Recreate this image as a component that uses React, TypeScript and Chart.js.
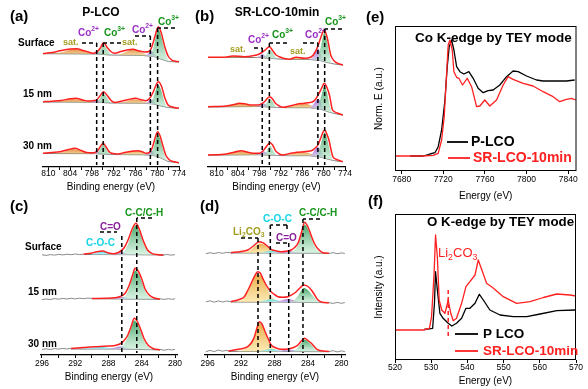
import React, { useEffect, useRef } from 'react';
import { Chart, registerables } from 'chart.js';

Chart.register(...registerables);

type P = [number, number];
const FONT = '"Liberation Sans", Arial, Helvetica, sans-serif';
const CW = 588;
const CH = 389;

// ================= DATA =================
// (a) Co 2p, P-LCO  — [binding energy eV, intensity a.u.]
const A_SURF_ENV: P[] = [[811.5,113.5],[809,114.5],[806.5,116.5],[804,118],[802.2,118.3],[800.5,116.5],[799,115],[797.7,113.8],[796.7,114.8],[795.7,119],[794.8,124.3],[793.8,119.5],[792.8,115.5],[791.7,113.8],[790,115.5],[788,117.3],[786.7,117.7],[785,116],[783.5,115],[782.3,115.5],[781.5,120],[780.6,131],[779.7,140.3],[778.8,133],[777.9,120],[777,111],[776,107],[775,105.8],[774,105.3]];
const A_SURF_BG: P[] = [[811.5,113.3],[797,113],[793,112],[784,111.5],[781,110.5],[779,108],[777,105.5],[774,105]];
const A_SURF_GREEN: P[] = [[797.3,113],[796.3,114.8],[795.6,118.5],[794.8,122],[794,118.5],[793.3,114.5],[792.3,112],[783,111.3],[781.8,113],[781,120],[780.4,130],[779.7,137.5],[779,132],[778.3,122],[777.6,112.5],[776.8,106.5],[776.2,105.2]];
const A_SURF_PURPLE: P[] = [[798.5,113],[797.5,114],[796.7,116],[795.8,114],[795,112.5],[783.5,111.4],[782.6,113],[781.8,116],[781,114],[780.2,110]];
const A_SURF_SAT: P[] = [[809,113.2],[806,115],[803,118],[800.5,116.5],[798.5,113.8],[797.5,113],[791,112],[789,114.5],[787,117.5],[785.5,116.5],[784,114],[782.5,111.3]];

const A_15_ENV: P[] = [[811.5,65.3],[809,65.8],[806.5,66.5],[804,68.2],[802.5,68.7],[800.5,67],[799,66],[797.7,66.3],[796.7,67.2],[795.7,71.5],[794.8,75.3],[793.8,71.5],[792.8,66.8],[791.7,64.5],[790,65.8],[788,67.5],[786,68.7],[784.5,67.3],[783.2,66.3],[782.2,68.3],[781.3,73.5],[780.5,80.5],[779.7,85.3],[778.8,80.5],[777.9,69],[777,62],[776,60.3],[775,59.3],[774,58.7]];
const A_15_BG: P[] = [[811.5,65],[797,64.8],[793,64],[784,63.8],[781,63],[779,61],[777,59.5],[774,58.5]];
const A_15_GREEN: P[] = [[797.3,64.8],[796.3,66],[795.6,70],[794.8,73.5],[794,70],[793.3,66],[792.3,64],[783,63.6],[781.8,65],[781,70],[780.4,77],[779.7,82],[779,77.5],[778.3,69],[777.6,62],[776.8,59.5],[776.2,59]];
const A_15_PURPLE: P[] = [[798.5,64.9],[797.5,65.8],[796.7,67.3],[795.8,65.8],[795,64.5],[783.5,63.8],[782.6,65],[781.8,67.5],[781,66],[780.2,63]];
const A_15_SAT: P[] = [[809,65],[806,66.2],[803.5,68],[801,67],[799,65.5],[797.5,64.8],[791,64],[789,65.2],[786.5,67.8],[784.5,66.5],[783,64.2],[782,63.6]];

const A_30_ENV: P[] = [[811.5,13.7],[809,14.5],[806.8,15.3],[804.5,17.5],[802.7,18.7],[801,16.5],[799.5,14.5],[797.5,14.3],[796.5,16],[795.6,21],[794.9,23.7],[794.1,20],[793.3,15.5],[792.6,13.7],[790.8,13],[789,14.5],[787,15.8],[785.3,16.3],[784,15],[783,13.7],[782,15],[781.3,20],[780.6,29],[779.9,35.3],[779.2,31],[778.5,22],[777.6,11.5],[776.6,7],[775.3,5.3],[774,4.3]];
const A_30_BG: P[] = [[811.5,13.5],[797,13.3],[793,12.5],[784,12.2],[781,11.5],[779,9],[777,5.5],[774,4.2]];
const A_30_GREEN: P[] = [[797.3,13.3],[796.3,15],[795.6,19],[794.9,22.5],[794.2,19],[793.5,15],[792.5,12.5],[783,12],[781.8,13.5],[781,19],[780.5,26],[779.9,33],[779.2,28],[778.5,19],[777.8,9.5],[777,5.5]];
const A_30_PURPLE: P[] = [[798.5,13.3],[797.5,14.3],[796.7,16],[795.8,14.3],[795,12.9],[783.5,12.2],[782.6,13.8],[781.8,16.5],[781,14.5],[780.2,11]];
const A_30_SAT: P[] = [[809,13.4],[806,15],[803.5,18],[801,16.5],[799,14],[797.5,13.3],[791,12.4],[789,14],[786.5,16.5],[784.5,15.5],[783,12.5],[782,12]];

// (b) Co 2p, SR-LCO-10min
const B_SURF_ENV: P[] = [[812.4,109.7],[808.2,109.7],[805.4,111],[802.2,110.3],[799.5,111.5],[798.2,112.8],[797.3,114.5],[796.2,117.5],[795.2,120.3],[794.2,116],[793.3,112],[792.4,110.3],[791,108.5],[789.6,107.7],[787.7,109.7],[785.4,108.7],[783.5,110],[782.5,114],[781.6,121],[780.7,130.3],[779.8,137],[778.9,128],[778,112],[777,106],[776,103.7],[774.6,102]];
const B_SURF_BG: P[] = [[812.4,109.5],[798,109.5],[792.5,108],[789.6,107.5],[784,107.5],[781,106.5],[779,104.5],[777,103],[774.6,102]];
const B_SURF_GREEN: P[] = [[797,109.4],[796.2,111.5],[795.6,115],[795.1,117.5],[794.4,115],[793.7,111],[793,108.3],[783,107.5],[781.8,109],[781,117],[780.4,126],[779.8,134],[779.1,127],[778.5,115],[777.7,104],[777,103]];
const B_SURF_PURPLE: P[] = [[799,109.5],[798,111],[797.2,113],[796.3,111],[795.5,109.2],[784,107.5],[783,110],[782.2,115],[781.6,118.5],[780.8,113],[780,106]];
const B_SURF_SAT: P[] = [[808,109.5],[805.5,110.8],[803,110.6],[800.5,109.6],[791,108.2],[789,108.5],[787.5,109.5],[785.5,108.7],[784,107.6]];

const B_15_ENV: P[] = [[812.4,60.3],[807.3,61],[805,62.5],[803.6,63.7],[801.8,63],[800.3,62],[798.3,62],[797.3,63.5],[796.5,65.5],[795.8,68.5],[795.1,70.3],[794.3,68],[793.5,63.7],[792.4,61],[791.4,59.7],[789.5,61],[787.5,62.8],[785.4,63.7],[783.8,64.5],[783,65.3],[782.2,68],[781.5,72.3],[780.6,78.5],[779.8,83.7],[779,79],[778.3,71],[777.6,58],[776.8,55],[776,53.7],[774.6,52]];
const B_15_BG: P[] = [[812.4,60],[798,60.5],[793,59.5],[790,59.3],[784,59.3],[781,58],[779,55.5],[777,53.5],[774.6,52]];
const B_15_GREEN: P[] = [[797.2,60.4],[796.3,62],[795.6,66],[795.1,68],[794.4,66],[793.7,61.8],[793,59.5],[783,59],[781.8,60.5],[781,67],[780.4,74],[779.8,81],[779.1,75],[778.5,65],[777.7,55],[777,53.5]];
const B_15_PURPLE: P[] = [[799,60.5],[798,61.6],[797,64],[796.2,62.5],[795.4,60.3],[784,59.3],[783,62],[782.2,66],[781.5,68],[780.7,64],[780,57]];
const B_15_SAT: P[] = [[810,60.1],[807,61.3],[804,63.5],[801.5,62.5],[799,60.7],[792,59.5],[789.5,60.3],[787.5,62.3],[785.5,63.5],[783.5,61.5],[782.2,58.8]];

const B_30_ENV: P[] = [[812.4,12],[807.3,13],[805,14.8],[803.1,16.3],[801.5,15],[799.8,13.7],[798,13.7],[797.2,15.3],[796.6,17.7],[795.8,21.5],[795,24.3],[794.2,21.5],[793.5,16.3],[792.4,13],[791.4,12],[789.5,13.5],[787.5,14.8],[785.4,15.3],[783.8,16],[783,17],[782.2,19.5],[781.6,22],[780.8,29],[780.2,34.5],[779.7,37],[779,32],[778.5,27],[777.9,17],[777.4,10.3],[776.6,8],[776,7],[774.6,5.3]];
const B_30_BG: P[] = [[812.4,11.8],[798,12.3],[793,11.5],[790,11.3],[784,11.3],[781,10],[779,8],[777,6.3],[774.6,5.2]];
const B_30_GREEN: P[] = [[797,12.3],[796.2,14],[795.6,18],[795,21.5],[794.4,18],[793.7,13.8],[793,11.5],[783,11],[781.8,12.8],[781,20],[780.4,28],[779.7,34.5],[779,28],[778.4,18.5],[777.6,8.5],[777,6.3]];
const B_30_PURPLE: P[] = [[799,12.3],[798,13.6],[797,16.3],[796.2,14.5],[795.4,12.2],[784,11.3],[783,14],[782.2,18.5],[781.6,19.8],[780.8,16],[780,9.5]];
const B_30_SAT: P[] = [[810,11.9],[807,13.3],[804,16],[801.5,14.8],[799,12.6],[792,11.4],[789.5,12.5],[787.5,14.5],[785.5,15],[783.5,13.2],[782.2,10.8]];

// (c) C 1s, P-LCO
const C_SURF_ENV: P[] = [[291,100.8],[290,102],[289.4,103.3],[288.7,104],[288,102],[287.4,101.3],[286.7,103],[286.1,107.5],[285.6,116],[285.1,127],[284.7,131.7],[284.3,126],[283.8,114],[283.3,105],[282.8,101.7],[282,100.3],[281.4,100]];
const C_SURF_BG: P[] = [[291,100.5],[285,100.3],[281.4,100]];
const C_SURF_GREEN: P[] = [[287,100.4],[286.2,103],[285.6,112],[285.1,125],[284.7,130],[284.3,124],[283.8,112],[283.3,104],[282.6,100.2]];
const C_SURF_PURPLE: P[] = [[288,100.4],[287.2,101.5],[286.5,102.8],[285.8,101.5],[285,100.3]];
const C_SURF_CYAN: P[] = [[290.2,100.5],[289.4,102.5],[288.7,103.5],[288,102.2],[287.3,100.4]];
const C_SURF_RAW_L: P[] = [[296,100.2],[295.5,99.6],[295,100.4],[294.5,99.9],[294,100.6],[293.5,100.1],[293,100.8],[292.5,100.3],[292,101],[291.5,100.4],[291,100.9]];
const C_SURF_RAW_R: P[] = [[282,100.4],[281.5,99.8],[281,100.5],[280.5,99.9],[280,100.3]];

const C_15_ENV: P[] = [[290,56.5],[288.2,56.7],[287.3,57.2],[286.6,58.5],[286,61.7],[285.5,70],[285.1,80],[284.8,86.7],[284.4,83.5],[284,76],[283.6,66],[283.1,60],[282.6,57.3],[281.8,56]];
const C_15_BG: P[] = [[290,56.3],[285,55.9],[281.8,55.7]];
const C_15_GREEN: P[] = [[286.8,56],[286,59],[285.5,67],[285.1,78],[284.8,84.5],[284.4,81],[284,73.5],[283.6,64],[283.1,58.5],[282.5,55.8]];
const C_15_PURPLE: P[] = [[288,56.2],[287.3,57],[286.6,58.2],[285.9,57.2],[285.2,56]];
const C_15_CYAN: P[] = [[289.6,56.3],[288.9,56.9],[288.2,56.5],[287.6,56.1]];
const C_15_RAW_L: P[] = [[296,55.4],[295.5,56],[295,55.5],[294.5,56.4],[294,55.8],[293.5,56.6],[293,56],[292.5,56.7],[292,56.1],[291.5,56.8],[291,56.3],[290.5,56.9],[290,56.5]];
const C_15_RAW_R: P[] = [[281.8,56.2],[281.3,55.6],[280.8,56.3],[280.4,55.7],[280,56.2]];

const C_30_ENV: P[] = [[292.5,6.5],[291,7.5],[289.8,8.3],[288.5,8.8],[287.4,9.3],[286.7,10.8],[286.2,13.7],[285.7,19.5],[285.3,28],[284.9,36.7],[284.5,33],[284.1,25],[283.7,16],[283.2,9.5],[282.6,6.3],[281.8,5.2]];
const C_30_BG: P[] = [[292.5,6],[287,6],[281.8,5.1]];
const C_30_GREEN: P[] = [[286.8,6.1],[286.2,10],[285.7,17.5],[285.3,26],[284.9,34.5],[284.5,31],[284.1,23],[283.7,14],[283.2,8],[282.6,5.3]];
const C_30_PURPLE: P[] = [[288,6],[287.2,7.5],[286.5,8.5],[285.8,7.2],[285,5.8]];
const C_30_CYAN: P[] = [[291.5,6],[290.2,7.3],[289,8],[288,7.2],[287.2,6]];
const C_30_RAW_L: P[] = [[296,5.6],[295.5,6.2],[295,5.5],[294.5,6.4],[294,5.9],[293.5,6.6],[293,6],[292.5,6.7]];
const C_30_RAW_R: P[] = [[281.8,5.6],[281.3,4.8],[280.8,5.6],[280.4,5],[280,5.7]];

// (d) C 1s, SR-LCO-10min
const D_SURF_ENV: P[] = [[293.2,102.3],[292,103.5],[291.2,105],[290.6,108.5],[290.1,112],[289.8,113.3],[289.4,112.3],[289,110],[288.4,105.7],[287.8,104],[287.2,103.3],[286.6,103.8],[286,105],[285.6,107.5],[285.2,111.7],[284.8,122],[284.4,132.7],[284,128],[283.6,119],[283.2,111],[282.8,106],[282.2,102.3],[281.5,101.8]];
const D_SURF_BG: P[] = [[293.2,102],[288,102],[281.5,101.7]];
const D_SURF_LI: P[] = [[292,102],[291,104.5],[290.5,107.5],[290,110.5],[289.7,111.5],[289.3,110.5],[288.8,107.5],[288.3,104],[287.6,102]];
const D_SURF_CYAN: P[] = [[289.8,102],[289,103.5],[288.4,104.2],[287.8,103.5],[287,102]];
const D_SURF_PURPLE: P[] = [[288,102],[287.2,103],[286.4,104.3],[285.6,103],[284.8,101.9]];
const D_SURF_GREEN: P[] = [[286.5,101.9],[285.7,104.5],[285.2,110],[284.8,120],[284.4,130.5],[284,126],[283.6,117],[283.2,108.5],[282.8,104],[282.2,101.8]];
const D_SURF_RAW_L: P[] = [[296.2,101.3],[295.7,102.3],[295.2,101.4],[294.7,102.5],[294.2,101.7],[293.7,102.6],[293.2,102.1]];
const D_SURF_RAW_R: P[] = [[281.5,101.6],[281,102.3],[280.5,101.3],[280,102.1],[279.6,101.6]];

const D_15_ENV: P[] = [[293.2,53.3],[292.2,55.5],[291.6,58.3],[291.1,66],[290.6,75],[290.2,81.5],[290,83.3],[289.7,82],[289.4,76.7],[289,70],[288.6,65],[288.1,61],[287.6,58.3],[287,57.8],[286.4,58.3],[285.9,60.3],[285.4,63.3],[284.9,67.5],[284.5,70],[284,68.5],[283.6,65],[283.2,60],[282.8,55],[282.3,52.8],[281.5,52.3]];
const D_15_BG: P[] = [[293.2,53],[287,52.8],[281.5,52.3]];
const D_15_LI: P[] = [[292.5,53.2],[291.6,57],[291.1,64.5],[290.6,73.5],[290.1,80.5],[289.7,80],[289.3,74],[288.8,65],[288.3,58],[287.6,54],[287,52.8]];
const D_15_CYAN: P[] = [[290,53],[289.2,54.5],[288.5,55.8],[287.8,55],[287,52.8]];
const D_15_PURPLE: P[] = [[288,52.9],[287.2,54.5],[286.4,56],[285.6,54.6],[284.8,52.7]];
const D_15_GREEN: P[] = [[286.3,52.7],[285.7,54.5],[285.2,59],[284.8,64.5],[284.5,67],[284.1,65.5],[283.6,61],[283.2,57],[282.7,53.5],[282.2,52.4]];
const D_15_RAW_L: P[] = [[296.2,53.1],[295.7,54.2],[295.2,52.8],[294.7,54.1],[294.2,53],[293.7,54],[293.2,53.2]];
const D_15_RAW_R: P[] = [[281.5,52.3],[281,51.6],[280.5,52.6],[280,51.7],[279.6,52.4]];

const D_30_ENV: P[] = [[293.5,4],[292.8,5],[291.8,6.5],[291.2,8.3],[290.7,13],[290.4,18.3],[290.1,27],[289.8,33.3],[289.5,31],[289.2,25],[288.8,17],[288.4,10],[287.8,7],[287.2,5.7],[286.6,5.8],[286,6.7],[285.5,8.3],[285.2,10],[284.8,14],[284.4,16.7],[284,14.5],[283.6,11.7],[283.2,8],[282.8,5],[282.2,4],[281.5,3.5]];
const D_30_BG: P[] = [[293.5,3.6],[287,3.5],[281.5,3.3]];
const D_30_LI: P[] = [[292.5,3.6],[291.6,5.5],[291,9],[290.5,16],[290.1,26],[289.8,32],[289.5,29.5],[289.1,22],[288.7,13],[288.2,7],[287.6,4.2],[287,3.5]];
const D_30_CYAN: P[] = [[290,3.6],[289.2,4.8],[288.5,6],[287.8,5.2],[287,3.5]];
const D_30_PURPLE: P[] = [[288,3.5],[287.2,4.6],[286.4,5.6],[285.6,4.6],[284.8,3.4]];
const D_30_GREEN: P[] = [[286,3.4],[285.5,5],[285.1,8.5],[284.7,13],[284.4,15.5],[284,13.5],[283.6,10],[283.2,6.5],[282.7,4],[282.2,3.4]];
const D_30_RAW_L: P[] = [[296.2,3.3],[295.7,4.6],[295.2,3.4],[294.7,5],[294.2,3.8],[293.7,4.7],[293.5,4]];
const D_30_RAW_R: P[] = [[281.5,3.5],[281,4.3],[280.5,3.1],[280,4.1],[279.6,3.4]];

// (e) Co K-edge, TEY  — [energy eV, normalized intensity]
const E_PLCO: P[] = [[7688,14],[7700.7,14],[7707.2,16],[7712,17.3],[7715.1,23.3],[7718.4,40],[7721.6,70],[7723.8,103.3],[7725.7,123.3],[7728,130],[7730.2,120],[7732.8,103.3],[7736,98.3],[7739.8,96],[7744.6,98.3],[7748.7,91.7],[7753.5,81.7],[7758.3,77.3],[7763.1,79.3],[7767.9,80],[7774.3,85],[7780.8,93.3],[7787.1,99],[7791.9,98.3],[7800,94],[7809.6,90],[7815.9,89],[7838.3,89],[7846.3,90]];
const E_SR: P[] = [[7673.6,14],[7700.7,14],[7710.3,14.7],[7715.1,16.7],[7718.4,30],[7720.9,53.3],[7723.2,96.7],[7724.7,125],[7726.4,130],[7728.6,120],[7730.2,98.3],[7732.8,92.7],[7735,91.7],[7738.5,85],[7743,91.7],[7747.2,83.3],[7752,63.3],[7755.1,64],[7759.9,70],[7764.7,64],[7771.2,70],[7777.5,85],[7782.3,93.3],[7787.1,90.7],[7796.7,86.7],[7806.3,84],[7815.9,78.3],[7825.5,73.3],[7831.9,68.3],[7838.3,70.7],[7843.1,71.7],[7847.3,70]];

// (f) O K-edge, TEY
const F_PLCO: P[] = [[528,30.5],[530.4,31.7],[530.9,56.7],[531.2,88.3],[531.7,70],[532.4,46.7],[533.3,41.7],[534.7,36.7],[535.7,34],[537,36.7],[538.4,41.7],[539.6,51.7],[540.7,51.7],[542.1,56.7],[543.3,65.7],[544.4,60],[546.2,50],[549,45],[552.7,43.3],[556.4,43.3],[560.1,46],[564.7,49.3],[569.7,50],[570,50]];
const F_SR: P[] = [[520,30],[527.8,30],[529.5,31.7],[530.1,43.3],[530.8,86.7],[531.2,125],[531.7,103.3],[532.2,60],[532.9,50],[533.8,46.7],[534.7,60],[535.4,46.7],[536.1,39.3],[537,41.7],[538.4,56.7],[539.6,73.3],[540.7,78.3],[542.1,85],[543,100],[544,90],[545.3,76.7],[547.2,71.7],[549.9,63.3],[553.6,56.7],[557.3,58.3],[561,62.5],[564.7,66],[568.3,65],[570,64]];

// ticks
const CO2P_TICKS = [810, 807, 804, 801, 798, 795, 792, 789, 786, 783, 780, 777, 774];
const CO2P_LABELS = [810, 804, 798, 792, 786, 780, 774];
const C1S_TICKS = [296, 294, 292, 290, 288, 286, 284, 282, 280];
const C1S_LABELS = [296, 292, 288, 284, 280];
const COK_TICKS = [7680, 7720, 7760, 7800, 7840];
const OK_TICKS = [520, 530, 540, 550, 560, 570];

// ================= STYLE =================
const RED = '#ff2020';
const GREY = '#7d7d7d';
const GREEN_FILL: [string, string] = ['rgba(38,150,78,0.85)', 'rgba(195,236,210,0.6)'];
const PURPLE_FILL: [string, string] = ['rgba(150,100,205,0.9)', 'rgba(212,190,238,0.75)'];
const SAT_FILL: [string, string] = ['rgba(228,118,40,0.85)', 'rgba(232,200,110,0.6)'];
const CYAN_FILL: [string, string] = ['rgba(55,212,228,0.85)', 'rgba(175,242,246,0.7)'];
const LI_FILL: [string, string] = ['rgba(230,160,48,0.9)', 'rgba(250,226,150,0.7)'];
const C_PURPLE = '#9a2fc4';
const C_GREEN = '#17951c';
const C_OLIVE = '#a39d1e';
const C_CYAN = '#14d4e6';
const C_CO = '#8b1d9c';

type Part = { t: string; s?: 'sup' | 'sub' };
type Item =
  | { k: 'text'; x: number; y: number; p: Part[] | string; size: number; bold?: boolean; color?: string; align?: 'left' | 'center' }
  | { k: 'br'; e: number; top: number; bottom: number; hx?: number; color?: string }
  | { k: 'hd'; x1: number; x2: number; y: number }
  | { k: 'vd'; x: number; y1: number; y2: number }
  | { k: 'leg'; x1: number; x2: number; y: number; color: string }
  | { k: 'box' };

const co = (n: string): Part[] => [{ t: 'Co' }, { t: n, s: 'sup' }];
const li: Part[] = [{ t: 'Li' }, { t: '2', s: 'sub' }, { t: 'CO' }, { t: '3', s: 'sub' }];

function drawText(ctx: CanvasRenderingContext2D, it: any) {
  const parts: Part[] = typeof it.p === 'string' ? [{ t: it.p }] : it.p;
  const w = it.bold ? 'bold ' : '';
  const big = `${w}${it.size}px ${FONT}`;
  const small = `${w}${(it.size * 0.68).toFixed(1)}px ${FONT}`;
  let total = 0;
  for (const p of parts) { ctx.font = p.s ? small : big; total += ctx.measureText(p.t).width; }
  let x = it.align === 'center' ? it.x - total / 2 : it.x;
  ctx.fillStyle = it.color || '#000';
  ctx.textBaseline = 'middle';
  ctx.textAlign = 'left';
  for (const p of parts) {
    ctx.font = p.s ? small : big;
    const dy = p.s === 'sup' ? -it.size * 0.38 : p.s === 'sub' ? it.size * 0.32 : 0;
    ctx.fillText(p.t, x, it.y + dy);
    x += ctx.measureText(p.t).width;
  }
}

function drawItems(chart: any, items: Item[]) {
  const ctx: CanvasRenderingContext2D = chart.ctx;
  const xs = chart.scales.x;
  ctx.save();
  for (const it of items) {
    ctx.setLineDash([]);
    if (it.k === 'box') {
      const a = chart.chartArea;
      ctx.strokeStyle = '#000';
      ctx.lineWidth = 1;
      ctx.strokeRect(a.left + 0.5, a.top + 0.5, a.right - a.left - 1, a.bottom - a.top - 1);
    } else if (it.k === 'text') {
      drawText(ctx, it);
    } else if (it.k === 'br') {
      const x = xs.getPixelForValue(it.e);
      ctx.setLineDash([4, 3]);
      ctx.lineWidth = 1.5;
      ctx.strokeStyle = it.color || '#000';
      ctx.beginPath();
      ctx.moveTo(x, it.top);
      ctx.lineTo(x, it.bottom);
      if (it.hx !== undefined) { ctx.moveTo(it.hx, it.top); ctx.lineTo(x, it.top); }
      ctx.stroke();
    } else if (it.k === 'hd') {
      ctx.setLineDash([4, 3]);
      ctx.lineWidth = 1.5;
      ctx.strokeStyle = '#000';
      ctx.beginPath(); ctx.moveTo(it.x1, it.y); ctx.lineTo(it.x2, it.y); ctx.stroke();
    } else if (it.k === 'vd') {
      ctx.setLineDash([4, 3]);
      ctx.lineWidth = 1.5;
      ctx.strokeStyle = '#000';
      ctx.beginPath(); ctx.moveTo(it.x, it.y1); ctx.lineTo(it.x, it.y2); ctx.stroke();
    } else if (it.k === 'leg') {
      ctx.lineWidth = 1.8;
      ctx.strokeStyle = it.color;
      ctx.beginPath(); ctx.moveTo(it.x1, it.y); ctx.lineTo(it.x2, it.y); ctx.stroke();
    }
  }
  ctx.restore();
}

const pts = (a: P[]) => a.map(([x, y]) => ({ x, y }));

// vertical gradient spanning a component's own intensity range (dark at top, pale at base)
function gradFill(d: P[], cols: [string, string]) {
  const hi = Math.max(...d.map((p) => p[1]));
  const lo = Math.min(...d.map((p) => p[1]));
  return (c: any) => {
    const ch = c.chart;
    const ys = ch.scales && ch.scales.y;
    if (!ys || !ch.chartArea) return cols[0];
    const y0 = ys.getPixelForValue(hi);
    const y1 = ys.getPixelForValue(lo);
    if (!isFinite(y0) || !isFinite(y1) || y0 === y1) return cols[0];
    const g = ch.ctx.createLinearGradient(0, y0, 0, y1);
    g.addColorStop(0, cols[0]);
    g.addColorStop(1, cols[1]);
    return g;
  };
}

function spectrum(ds: any[], s: { env: P[]; bg: P[]; raw?: P[][]; comps: [P[], [string, string]][] }) {
  const start = ds.length;
  const nRaw = s.raw ? s.raw.length : 0;
  const bgIndex = start + 1 + nRaw + s.comps.length;
  ds.push({ data: pts(s.env), borderColor: RED, borderWidth: 1.5, cubicInterpolationMode: 'monotone', fill: false });
  (s.raw || []).forEach((r) => ds.push({ data: pts(r), borderColor: GREY, borderWidth: 0.9, fill: false }));
  s.comps.forEach(([d, c]) => ds.push({ data: pts(d), borderColor: 'rgba(0,0,0,0)', borderWidth: 0, backgroundColor: gradFill(d, c), cubicInterpolationMode: 'monotone', fill: bgIndex }));
  ds.push({ data: pts(s.bg), borderColor: GREY, borderWidth: 1, fill: false });
}

interface PanelCfg {
  area: [number, number, number, number];
  axisH: number; tickLen: number; tickPad: number;
  xmin: number; xmax: number; reverse: boolean;
  ymin: number; ymax: number;
  ticks: number[]; labels: number[];
  xTitle: string; yTitle?: string;
  datasets: any[]; items: Item[];
}

function build(canvas: HTMLCanvasElement, c: PanelCfg) {
  const [L, T, R, B] = c.area;
  const yW = c.yTitle ? 22 : 0;
  return new Chart(canvas, {
    type: 'line',
    data: { datasets: c.datasets },
    options: {
      responsive: false,
      animation: false,
      devicePixelRatio: 1,
      events: [],
      layout: { padding: { left: L - yW, top: T, right: CW - R, bottom: CH - B - c.axisH } },
      plugins: { legend: { display: false }, tooltip: { enabled: false } },
      elements: { point: { radius: 0 }, line: { borderJoinStyle: 'round' } },
      scales: {
        x: {
          type: 'linear', min: c.xmin, max: c.xmax, reverse: c.reverse,
          afterFit: (s: any) => { s.height = c.axisH; },
          afterBuildTicks: (s: any) => { s.ticks = c.ticks.map((v) => ({ value: v })); },
          ticks: {
            autoSkip: false, maxRotation: 0, minRotation: 0, padding: c.tickPad,
            font: { size: 8.5, family: FONT }, color: '#000',
            callback: (v: any) => (c.labels.includes(Number(v)) ? String(v) : ''),
          },
          grid: { display: true, drawOnChartArea: false, drawTicks: true, tickLength: c.tickLen, color: '#000', lineWidth: 1 },
          border: { display: !c.yTitle, color: '#000', width: 1.2 },
          title: { display: true, text: c.xTitle, font: { size: 10, family: FONT }, color: '#000', padding: 0 },
        },
        y: {
          type: 'linear', min: c.ymin, max: c.ymax, display: !!c.yTitle,
          afterFit: (s: any) => { s.width = yW; },
          ticks: { display: false },
          grid: { display: false, drawTicks: false },
          border: { display: false },
          title: { display: !!c.yTitle, text: c.yTitle || '', font: { size: 10, family: FONT }, color: '#000', padding: 0 },
        },
      },
    } as any,
    plugins: [{ id: 'anno', afterDraw: (ch: any) => drawItems(ch, c.items) }],
  });
}

// ================= PANELS =================
function panelA(): PanelCfg {
  const ds: any[] = [];
  spectrum(ds, { env: A_SURF_ENV, bg: A_SURF_BG, comps: [[A_SURF_GREEN, GREEN_FILL], [A_SURF_PURPLE, PURPLE_FILL], [A_SURF_SAT, SAT_FILL]] });
  spectrum(ds, { env: A_15_ENV, bg: A_15_BG, comps: [[A_15_GREEN, GREEN_FILL], [A_15_PURPLE, PURPLE_FILL], [A_15_SAT, SAT_FILL]] });
  spectrum(ds, { env: A_30_ENV, bg: A_30_BG, comps: [[A_30_GREEN, GREEN_FILL], [A_30_PURPLE, PURPLE_FILL], [A_30_SAT, SAT_FILL]] });
  return {
    area: [43, 20, 179, 167], axisH: 26, tickLen: 3, tickPad: -1,
    xmin: 774, xmax: 811.5, reverse: true, ymin: 0, ymax: 147,
    ticks: CO2P_TICKS, labels: CO2P_LABELS, xTitle: 'Binding energy (eV)', datasets: ds,
    items: [
      { k: 'text', x: 10, y: 17, p: '(a)', size: 15, bold: true },
      { k: 'text', x: 101, y: 13, p: 'P-LCO', size: 12, bold: true, align: 'center' },
      { k: 'text', x: 18, y: 43, p: 'Surface', size: 10, bold: true },
      { k: 'text', x: 23, y: 94, p: '15 nm', size: 10, bold: true },
      { k: 'text', x: 23, y: 146, p: '30 nm', size: 10, bold: true },
      { k: 'text', x: 63, y: 43, p: 'sat.', size: 9, bold: true, color: C_OLIVE },
      { k: 'text', x: 78, y: 33, p: co('2+'), size: 10, bold: true, color: C_PURPLE },
      { k: 'text', x: 104, y: 33, p: co('3+'), size: 10, bold: true, color: C_GREEN },
      { k: 'text', x: 122, y: 43, p: 'sat.', size: 9, bold: true, color: C_OLIVE },
      { k: 'text', x: 132, y: 30, p: co('2+'), size: 10, bold: true, color: C_PURPLE },
      { k: 'text', x: 158, y: 22, p: co('3+'), size: 10, bold: true, color: C_GREEN },
      { k: 'br', e: 796.7, top: 43, bottom: 165, hx: 82 },
      { k: 'br', e: 794.9, top: 43, bottom: 165, hx: 121 },
      { k: 'br', e: 781.9, top: 36, bottom: 165, hx: 135 },
      { k: 'br', e: 779.9, top: 28, bottom: 165, hx: 175 },
    ],
  };
}

function panelB(): PanelCfg {
  const ds: any[] = [];
  spectrum(ds, { env: B_SURF_ENV, bg: B_SURF_BG, comps: [[B_SURF_GREEN, GREEN_FILL], [B_SURF_PURPLE, PURPLE_FILL], [B_SURF_SAT, SAT_FILL]] });
  spectrum(ds, { env: B_15_ENV, bg: B_15_BG, comps: [[B_15_GREEN, GREEN_FILL], [B_15_PURPLE, PURPLE_FILL], [B_15_SAT, SAT_FILL]] });
  spectrum(ds, { env: B_30_ENV, bg: B_30_BG, comps: [[B_30_GREEN, GREEN_FILL], [B_30_PURPLE, PURPLE_FILL], [B_30_SAT, SAT_FILL]] });
  return {
    area: [208, 20, 345, 167], axisH: 26, tickLen: 3, tickPad: -1,
    xmin: 774, xmax: 812.4, reverse: true, ymin: 0, ymax: 147,
    ticks: CO2P_TICKS, labels: CO2P_LABELS, xTitle: 'Binding energy (eV)', datasets: ds,
    items: [
      { k: 'text', x: 195, y: 17, p: '(b)', size: 15, bold: true },
      { k: 'text', x: 277, y: 13, p: 'SR-LCO-10min', size: 12, bold: true, align: 'center' },
      { k: 'text', x: 230, y: 50, p: 'sat.', size: 9, bold: true, color: C_OLIVE },
      { k: 'text', x: 248, y: 40, p: co('2+'), size: 10, bold: true, color: C_PURPLE },
      { k: 'text', x: 272, y: 35, p: co('3+'), size: 10, bold: true, color: C_GREEN },
      { k: 'text', x: 290, y: 52, p: 'sat.', size: 9, bold: true, color: C_OLIVE },
      { k: 'text', x: 305, y: 35, p: co('2+'), size: 10, bold: true, color: C_PURPLE },
      { k: 'text', x: 325, y: 22, p: co('3+'), size: 10, bold: true, color: C_GREEN },
      { k: 'br', e: 797.2, top: 48, bottom: 165, hx: 254 },
      { k: 'br', e: 795.2, top: 43, bottom: 165, hx: 287 },
      { k: 'br', e: 781.6, top: 43, bottom: 165, hx: 303 },
      { k: 'br', e: 779.7, top: 29, bottom: 165, hx: 342 },
    ],
  };
}

function panelC(): PanelCfg {
  const ds: any[] = [];
  spectrum(ds, { env: C_SURF_ENV, bg: C_SURF_BG, raw: [C_SURF_RAW_L, C_SURF_RAW_R], comps: [[C_SURF_GREEN, GREEN_FILL], [C_SURF_PURPLE, PURPLE_FILL], [C_SURF_CYAN, CYAN_FILL]] });
  spectrum(ds, { env: C_15_ENV, bg: C_15_BG, raw: [C_15_RAW_L, C_15_RAW_R], comps: [[C_15_GREEN, GREEN_FILL], [C_15_PURPLE, PURPLE_FILL], [C_15_CYAN, CYAN_FILL]] });
  spectrum(ds, { env: C_30_ENV, bg: C_30_BG, raw: [C_30_RAW_L, C_30_RAW_R], comps: [[C_30_GREEN, GREEN_FILL], [C_30_PURPLE, PURPLE_FILL], [C_30_CYAN, CYAN_FILL]] });
  return {
    area: [41, 210, 177, 355], axisH: 28, tickLen: 3, tickPad: 1,
    xmin: 279.76, xmax: 296.12, reverse: true, ymin: 0, ymax: 145,
    ticks: C1S_TICKS, labels: C1S_LABELS, xTitle: 'Binding energy (eV)', datasets: ds,
    items: [
      { k: 'text', x: 10, y: 207, p: '(c)', size: 15, bold: true },
      { k: 'text', x: 125, y: 213, p: 'C-C/C-H', size: 10, bold: true, color: C_GREEN },
      { k: 'text', x: 100, y: 227, p: 'C=O', size: 10, bold: true, color: C_CO },
      { k: 'text', x: 86, y: 243, p: 'C-O-C', size: 10, bold: true, color: C_CYAN },
      { k: 'text', x: 25, y: 247, p: 'Surface', size: 10, bold: true },
      { k: 'text', x: 28, y: 292, p: '15 nm', size: 10, bold: true },
      { k: 'text', x: 28, y: 344, p: '30 nm', size: 10, bold: true },
      { k: 'br', e: 284.6, top: 218, bottom: 353, hx: 152 },
      { k: 'br', e: 286.4, top: 236, bottom: 353 },
      { k: 'hd', x1: 100, x2: 117, y: 232 },
    ],
  };
}

function panelD(): PanelCfg {
  const ds: any[] = [];
  spectrum(ds, { env: D_SURF_ENV, bg: D_SURF_BG, raw: [D_SURF_RAW_L, D_SURF_RAW_R], comps: [[D_SURF_GREEN, GREEN_FILL], [D_SURF_PURPLE, PURPLE_FILL], [D_SURF_CYAN, CYAN_FILL], [D_SURF_LI, LI_FILL]] });
  spectrum(ds, { env: D_15_ENV, bg: D_15_BG, raw: [D_15_RAW_L, D_15_RAW_R], comps: [[D_15_GREEN, GREEN_FILL], [D_15_PURPLE, PURPLE_FILL], [D_15_CYAN, CYAN_FILL], [D_15_LI, LI_FILL]] });
  spectrum(ds, { env: D_30_ENV, bg: D_30_BG, raw: [D_30_RAW_L, D_30_RAW_R], comps: [[D_30_GREEN, GREEN_FILL], [D_30_PURPLE, PURPLE_FILL], [D_30_CYAN, CYAN_FILL], [D_30_LI, LI_FILL]] });
  return {
    area: [205, 210, 345, 355], axisH: 28, tickLen: 3, tickPad: 1,
    xmin: 279.58, xmax: 296.3, reverse: true, ymin: 0, ymax: 145,
    ticks: C1S_TICKS, labels: C1S_LABELS, xTitle: 'Binding energy (eV)', datasets: ds,
    items: [
      { k: 'text', x: 200, y: 207, p: '(d)', size: 15, bold: true },
      { k: 'text', x: 233, y: 232, p: li, size: 10, bold: true, color: C_OLIVE },
      { k: 'text', x: 263, y: 219, p: 'C-O-C', size: 10, bold: true, color: C_CYAN },
      { k: 'text', x: 276, y: 238, p: 'C=O', size: 10, bold: true, color: C_CO },
      { k: 'text', x: 299, y: 213, p: 'C-C/C-H', size: 10, bold: true, color: C_GREEN },
      { k: 'br', e: 289.97, top: 238, bottom: 353, hx: 241 },
      { k: 'br', e: 288.5, top: 225, bottom: 353, hx: 287 },
      { k: 'vd', x: 287, y1: 225, y2: 232 },
      { k: 'br', e: 286.3, top: 243, bottom: 353, hx: 276 },
      { k: 'br', e: 284.6, top: 219, bottom: 353, hx: 320 },
    ],
  };
}

function xasSets(black: P[], red: P[]) {
  return [
    { data: pts(red), borderColor: RED, borderWidth: 1.3, fill: false },
    { data: pts(black), borderColor: '#000', borderWidth: 1.3, fill: false },
  ];
}

function panelE(): PanelCfg {
  return {
    area: [395, 26, 576.5, 171], axisH: 31, tickLen: 3, tickPad: 1,
    xmin: 7673.6, xmax: 7848, reverse: false, ymin: -1, ymax: 144,
    ticks: COK_TICKS, labels: COK_TICKS, xTitle: 'Energy (eV)', yTitle: 'Norm. E (a.u.)',
    datasets: xasSets(E_PLCO, E_SR),
    items: [
      { k: 'box' },
      { k: 'text', x: 366, y: 18, p: '(e)', size: 15, bold: true },
      { k: 'text', x: 415, y: 38, p: 'Co K-edge by TEY mode', size: 13.5, bold: true },
      { k: 'leg', x1: 447, x2: 468, y: 142, color: '#000' },
      { k: 'text', x: 471, y: 142, p: 'P-LCO', size: 14, bold: true },
      { k: 'leg', x1: 448, x2: 470, y: 158, color: RED },
      { k: 'text', x: 473, y: 158, p: 'SR-LCO-10min', size: 14, bold: true, color: RED },
    ],
  };
}

function panelF(): PanelCfg {
  return {
    area: [395, 214, 576, 360], axisH: 27, tickLen: 3, tickPad: 0,
    xmin: 520, xmax: 570, reverse: false, ymin: 0, ymax: 146,
    ticks: OK_TICKS, labels: OK_TICKS, xTitle: 'Energy (eV)', yTitle: 'Intensity (a.u.)',
    datasets: xasSets(F_PLCO, F_SR),
    items: [
      { k: 'box' },
      { k: 'text', x: 368, y: 202, p: '(f)', size: 15, bold: true },
      { k: 'text', x: 427, y: 222, p: 'O K-edge by TEY mode', size: 13.3, bold: true },
      { k: 'text', x: 438, y: 253, p: li, size: 13, color: RED },
      { k: 'br', e: 534.7, top: 290, bottom: 337, color: RED },
      { k: 'leg', x1: 455, x2: 478, y: 334, color: '#000' },
      { k: 'text', x: 483, y: 334, p: 'P LCO', size: 13.5, bold: true },
      { k: 'leg', x1: 455, x2: 478, y: 351, color: RED },
      { k: 'text', x: 483, y: 351, p: 'SR-LCO-10min', size: 13.5, bold: true, color: RED },
    ],
  };
}

function Panel({ make }: { make: () => PanelCfg }) {
  const ref = useRef<HTMLCanvasElement>(null);
  useEffect(() => {
    const chart = build(ref.current as HTMLCanvasElement, make());
    return () => chart.destroy();
  }, [make]);
  return <canvas ref={ref} width={CW} height={CH} style={{ position: 'absolute', left: 0, top: 0, width: CW, height: CH }} />;
}

export default function App() {
  return (
    <div style={{ position: 'fixed', left: 0, top: 0, width: CW, height: CH, background: '#fff', overflow: 'hidden' }}>
      <Panel make={panelA} />
      <Panel make={panelB} />
      <Panel make={panelC} />
      <Panel make={panelD} />
      <Panel make={panelE} />
      <Panel make={panelF} />
    </div>
  );
}
